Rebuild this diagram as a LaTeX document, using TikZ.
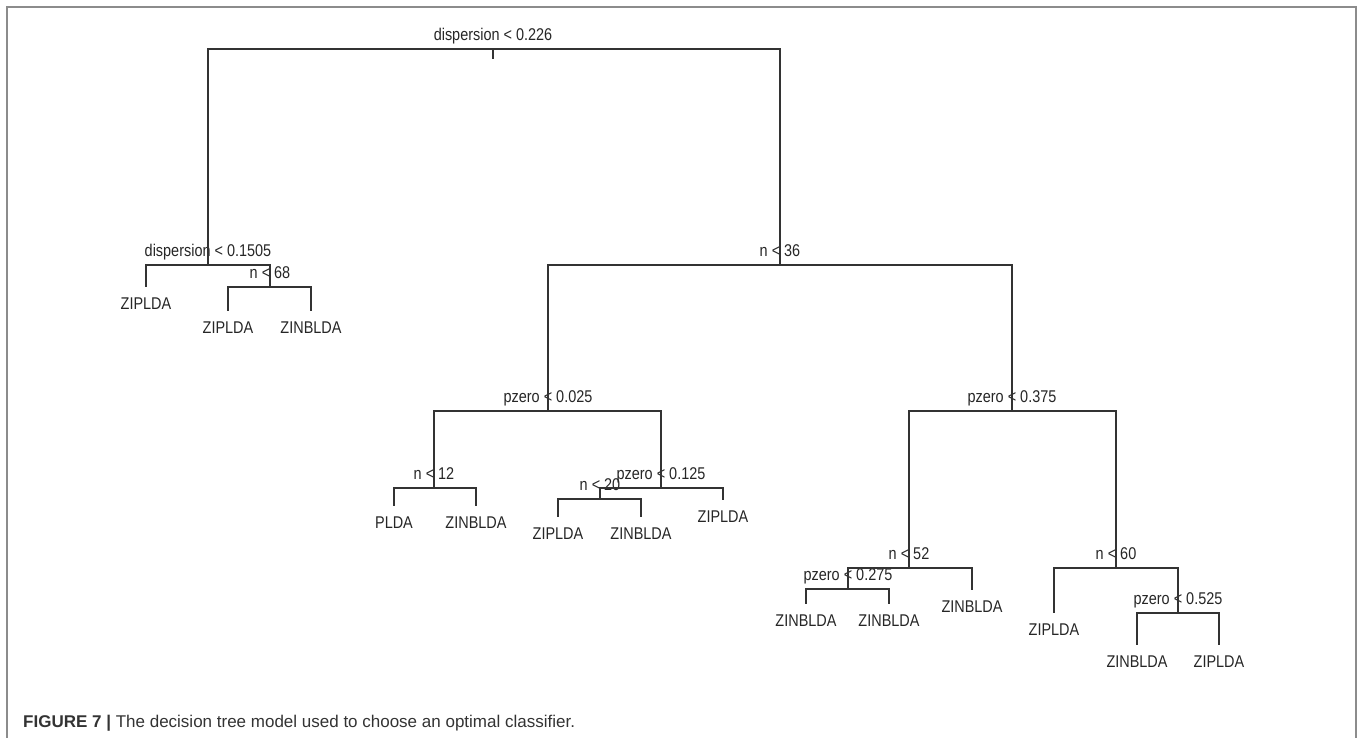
\documentclass[tikz,border=0pt]{standalone}
\usepackage{fontspec}
\setmainfont{Liberation Sans}
\newfontfamily\plotfont{Liberation Sans}[FakeStretch=0.85]
\usetikzlibrary{positioning}

\begin{document}
\begin{tikzpicture}[x=1pt, y=-1pt,
	plottext/.style={font=\plotfont\fontsize{17}{17}\selectfont, text=black!85,
	                 inner sep=0pt, text height=12pt, text depth=0pt},
	splitlabel/.style={plottext},
	leaflabel/.style={plottext},
	branch/.style={draw=black!80, line width=1.2pt},
	frame/.style={draw=black!45, line width=2pt},
	caption/.style={font=\fontsize{17}{17}\selectfont, text=black!80, inner sep=0pt}]
	\useasboundingbox (0,0) rectangle (1362,738);

	% Frame
	\draw [frame] (7,738) -- (7,7) -- (1356,7) -- (1356,738);

	% Splits
	\foreach \name/\x/\y/\txt in {
		root/493/49/{dispersion < 0.226},
		dispA/208/265/{dispersion < 0.1505},
		nA/270/287/{n < 68},
		nB/780/265/{n < 36},
		pzB/548/411/{pzero < 0.025},
		nC/434/488/{n < 12},
		pzC/661/488/{pzero < 0.125},
		nD/600/499/{n < 20},
		pzD/1012/411/{pzero < 0.375},
		nE/909/568/{n < 52},
		pzE/848/589/{pzero < 0.275},
		nF/1116/568/{n < 60},
		pzF/1178/613/{pzero < 0.525}}{
		\coordinate (\name) at (\x,\y);
		\node [splitlabel, above=8pt of \name] (\name lbl) {\txt};
	}

	% Leaves
	\foreach \name/\x/\y/\txt in {
		lfA/146/287/ZIPLDA,
		lfB/228/311/ZIPLDA,
		lfC/311/311/ZINBLDA,
		lfD/394/506/PLDA,
		lfE/476/506/ZINBLDA,
		lfF/558/517/ZIPLDA,
		lfG/641/517/ZINBLDA,
		lfH/723/500/ZIPLDA,
		lfI/806/604/ZINBLDA,
		lfJ/889/604/ZINBLDA,
		lfK/972/590/ZINBLDA,
		lfL/1054/613/ZIPLDA,
		lfM/1137/645/ZINBLDA,
		lfN/1219/645/ZIPLDA}{
		\coordinate (\name) at (\x,\y);
		\node [leaflabel, below=10pt of \name] (\name lbl) {\txt};
	}

	% Branches
	\draw [branch] (root) -- ++(0,10);
	\foreach \a/\b in {root/dispA, root/nB,
	                   dispA/lfA, dispA/nA, nA/lfB, nA/lfC,
	                   nB/pzB, nB/pzD,
	                   pzB/nC, pzB/pzC, nC/lfD, nC/lfE,
	                   pzC/nD, pzC/lfH, nD/lfF, nD/lfG,
	                   pzD/nE, pzD/nF, nE/pzE, nE/lfK, pzE/lfI, pzE/lfJ,
	                   nF/lfL, nF/pzF, pzF/lfM, pzF/lfN}{
		\draw [branch] (\a) -| (\b);
	}

	% Caption
	\node [caption, anchor=base west] (cap) at (23,727)
	      {\textbf{FIGURE 7 |} The decision tree model used to choose an optimal classifier.};
\end{tikzpicture}
\end{document}
